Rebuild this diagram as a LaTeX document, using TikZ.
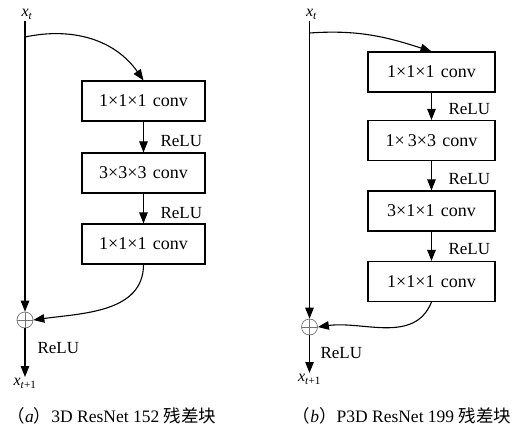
\documentclass[tikz,border=0pt]{standalone}
\usepackage{fontspec}
\setmainfont{Liberation Serif}
\newfontfamily\cjk{Noto Sans CJK SC}
\usetikzlibrary{arrows.meta}

\begin{document}
\begin{tikzpicture}[x=1pt, y=-1pt, line width=1.1pt,
  font=\fontsize{17}{20}\selectfont,
  >={Triangle[length=11pt, width=8.5pt]},
  conv/.style={draw, minimum height=40pt, inner sep=0pt, font=\fontsize{18}{21}\selectfont},
  convl/.style={conv, minimum width=123pt},
  convr/.style={conv, minimum width=127pt},
  relu/.style={anchor=west, inner sep=0pt},
  var/.style={font=\fontsize{16}{18}\selectfont, inner sep=1pt},
  sum/.style={circle, draw=black!55, line width=0.7pt, minimum size=16pt, inner sep=0pt,
    path picture={\draw[black!55, line width=0.7pt]
      (path picture bounding box.north) -- (path picture bounding box.south)
      (path picture bounding box.west) -- (path picture bounding box.east);}},
  caption/.style={font=\fontsize{17.5}{20}\selectfont},
]
  \useasboundingbox (0,0) rectangle (513,430);

  % (a) 3D ResNet 152
  \node[var, anchor=south] (xtA) at (27,21) {\textit{x}\textsubscript{\textit{t}}};
  \coordinate (splitA) at (25,37);
  \node[convl] (a1) at (143.5,101) {1×1×1\hspace{0.35em}conv};
  \node[convl] (a2) at (143.5,173) {3×3×3\hspace{0.35em}conv};
  \node[convl] (a3) at (143.5,244) {1×1×1\hspace{0.35em}conv};
  \node[relu] (rA1) at (160,141.5) {ReLU};
  \node[relu] (rA2) at (160,213.5) {ReLU};
  \node[sum] (plusA) at (25,320) {};
  \node[relu] (rA3) at (37,348) {ReLU};
  \node[var, anchor=north] (outA) at (25,377) {\textit{x}\textsubscript{\textit{t}+1}};
  \node[caption] (capA) at (112,416) {{\cjk （}\textit{a}{\cjk ）}3D ResNet 152 {\cjk 残差块}};

  \draw[->] (splitA |- xtA.south) -- (plusA.north);
  \draw[->] (splitA) to[out=12, in=125] (a1.north);
  \draw[->] (a1) -- (a2);
  \draw[->] (a2) -- (a3);
  \draw[->] (a3.south) to[out=-90, in=8] (plusA.east);
  \draw[->] (plusA.south) -- (outA.north);

  % (b) P3D ResNet 199
  \node[var, anchor=south] (xtB) at (311.5,21) {\textit{x}\textsubscript{\textit{t}}};
  \coordinate (splitB) at (309.5,33);
  \node[convr] (b1) at (431.5,72) {1×1×1\hspace{0.35em}conv};
  \node[convr] (b2) at (431.5,140.5) {1×\,3×3\hspace{0.35em}conv};
  \node[convr] (b3) at (431.5,211) {3×1×1\hspace{0.35em}conv};
  \node[convr] (b4) at (431.5,281.5) {1×1×1\hspace{0.35em}conv};
  \node[relu] (rB1) at (448,109) {ReLU};
  \node[relu] (rB2) at (448,179) {ReLU};
  \node[relu] (rB3) at (448,249) {ReLU};
  \node[sum] (plusB) at (309.5,327) {};
  \node[relu] (rB4) at (320,353) {ReLU};
  \node[var, anchor=north] (outB) at (309.5,373) {\textit{x}\textsubscript{\textit{t}+1}};
  \node[caption] (capB) at (402,416) {{\cjk （}\textit{b}{\cjk ）}P3D ResNet 199 {\cjk 残差块}};

  \draw[->] (splitB |- xtB.south) -- (plusB.north);
  \draw[->] (splitB) to[out=4, in=162] (b1.north);
  \draw[->] (b1) -- (b2);
  \draw[->] (b2) -- (b3);
  \draw[->] (b3) -- (b4);
  \draw[->] (b4.south) to[out=-112, in=8] (plusB.east);
  \draw[->] (plusB.south) -- (outB.north);
\end{tikzpicture}
\end{document}
